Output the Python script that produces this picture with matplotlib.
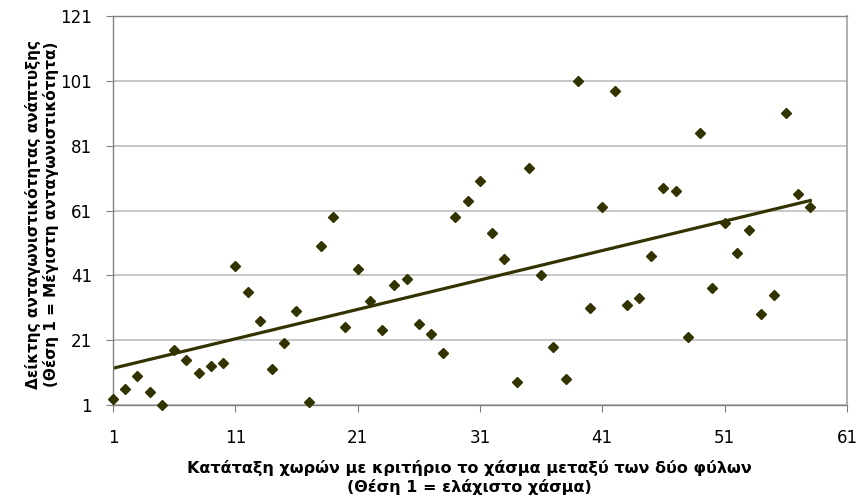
import numpy as np
import matplotlib.pyplot as plt

# rank by gender gap (x) vs competitiveness rank (y)
rank_gap = list(range(1, 59))
rank_comp = [3, 6, 10, 5, 1, 18, 15, 11, 13, 14,
             44, 36, 27, 12, 20, 30, 2, 50, 59, 25,
             43, 33, 24, 38, 40, 26, 23, 17, 59, 64,
             70, 54, 46, 8, 74, 41, 19, 9, 101, 31,
             62, 98, 32, 34, 47, 68, 67, 22, 85, 37,
             57, 48, 55, 29, 35, 91, 66, 62]

x_ticks = [1, 11, 21, 31, 41, 51, 61]
y_ticks = [1, 21, 41, 61, 81, 101, 121]

x_label = "Κατάταξη χωρών με κριτήριο το χάσμα μεταξύ των δύο φύλων\n(Θέση 1 = ελάχιστο χάσμα)"
y_label = "Δείκτης ανταγωνιστικότητας ανάπτυξης\n(Θέση 1 = Μέγιστη ανταγωνιστικότητα)"

dark = "#333300"

fig = plt.figure(figsize=(8.59, 5.01), dpi=100)
ax = fig.add_axes([0.1315, 0.1916, 0.8545, 0.7764])

ax.set_xlim(1, 61)
ax.set_ylim(1, 121)
ax.set_xticks(x_ticks)
ax.set_yticks(y_ticks)
ax.yaxis.grid(True, color="#b8b8b8", lw=1.1)
ax.set_axisbelow(True)

for s in ["left", "bottom", "top"]:
    ax.spines[s].set_color("#808080")
    ax.spines[s].set_linewidth(1.0)
ax.spines["right"].set_color("#a8a8a8")
ax.spines["right"].set_linewidth(1.3)

ax.tick_params(axis="both", direction="out", length=5, color="#808080",
               labelsize=12)
ax.tick_params(axis="x", pad=12)
ax.tick_params(axis="y", pad=10)

xs = np.array(rank_gap)
ys = np.array(rank_comp)
ax.plot(xs, ys, linestyle="none", marker="D", ms=4.7, color=dark, clip_on=False, zorder=3)

coef = np.polyfit(xs, ys, 1)
xl = np.array([xs.min(), xs.max()])
ax.plot(xl, np.polyval(coef, xl), color=dark, lw=2.3, zorder=2)

ax.set_xlabel(x_label, fontsize=11.5, fontweight="bold", linespacing=1.2)
ax.set_ylabel(y_label, fontsize=11, fontweight="bold", linespacing=1.15)
ax.xaxis.set_label_coords(0.486, -0.142)
ax.yaxis.set_label_coords(-0.073, 0.49)

fig.savefig("out.png", dpi=100)
